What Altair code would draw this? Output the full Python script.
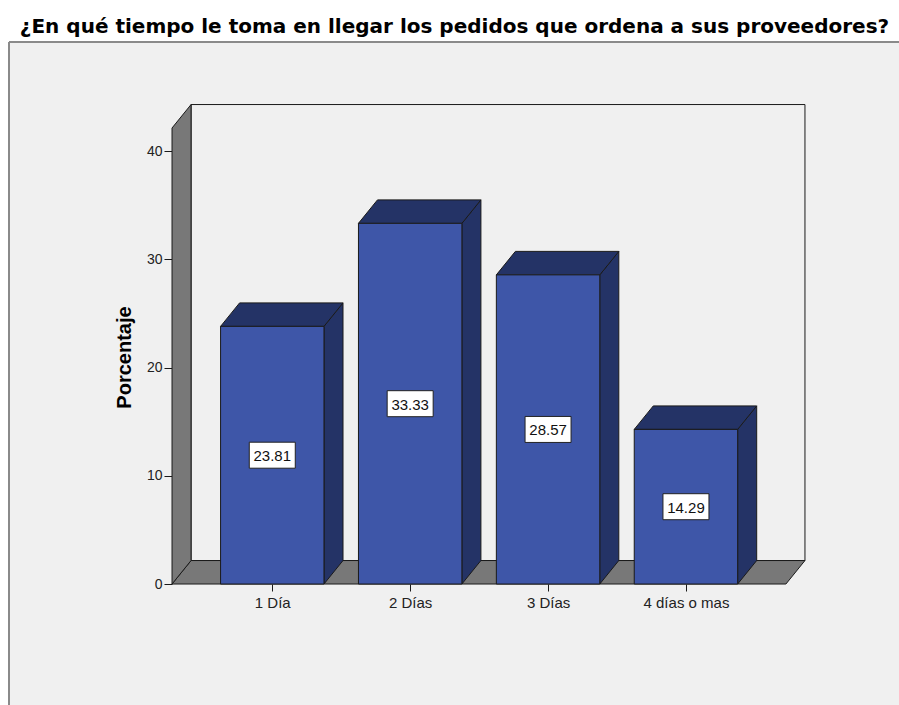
import json
import altair as alt
import pandas as pd

# Response categories and their percentages
categories = ["1 Día", "2 Días", "3 Días", "4 días o mas"]
percentages = [23.81, 33.33, 28.57, 14.29]
y_ticks = [0, 10, 20, 30, 40]

title_text = "¿En qué tiempo le toma en llegar los pedidos que ordena a sus proveedores?"
y_title = "Porcentaje"

# Geometry of the pseudo-3D frame, in data units
X_DOMAIN = [-1.902, 4.545]
Y_DOMAIN = [-11.18, 50.09]
HALF_BAR = 0.375          # half of a bar's front width (category step = 1)
DEPTH_X = 0.138           # horizontal depth of the extrusion
DEPTH_Y = 2.17            # vertical depth of the extrusion
FLOOR_X = [-0.727, 3.725] # front edge of the floor
WALL_TOP = 42.14          # top of the side wall

FRONT = "#3e56a8"
DARK = "#243366"
WALL = "#787878"
EDGE = "#1a1a1a"
PANEL = "#f0f0f0"
FONT = "Liberation Sans"
TITLE_FONT = "DejaVu Sans"

idx = list(range(len(categories)))

bars = pd.DataFrame({
    "cat": categories,
    "i": idx,
    "v": percentages,
})
bars["x0"] = bars["i"] - HALF_BAR
bars["x1"] = bars["i"] + HALF_BAR
bars["mid"] = bars["v"] / 2

side_rows, top_rows = [], []
for c, i, v in zip(categories, idx, percentages):
    side_rows.append({"cat": c, "px": i + HALF_BAR, "lo": 0.0, "hi": v})
    side_rows.append({"cat": c, "px": i + HALF_BAR + DEPTH_X, "lo": DEPTH_Y, "hi": v + DEPTH_Y})
    top_rows.append({"cat": c, "py": v, "l": i - HALF_BAR, "r": i + HALF_BAR})
    top_rows.append({"cat": c, "py": v + DEPTH_Y, "l": i - HALF_BAR + DEPTH_X, "r": i + HALF_BAR + DEPTH_X})
sides = pd.DataFrame(side_rows)
tops = pd.DataFrame(top_rows)

wall = pd.DataFrame([
    {"px": FLOOR_X[0], "lo": 0.0, "hi": WALL_TOP},
    {"px": FLOOR_X[0] + DEPTH_X, "lo": DEPTH_Y, "hi": WALL_TOP + DEPTH_Y},
])
floor = pd.DataFrame([
    {"py": 0.0, "l": FLOOR_X[0], "r": FLOOR_X[1]},
    {"py": DEPTH_Y, "l": FLOOR_X[0] + DEPTH_X, "r": FLOOR_X[1] + DEPTH_X},
])
back = pd.DataFrame([{
    "l": FLOOR_X[0] + DEPTH_X, "r": FLOOR_X[1] + DEPTH_X,
    "b": DEPTH_Y, "t": WALL_TOP + DEPTH_Y,
}])

xs = alt.Scale(domain=X_DOMAIN, nice=False, zero=False)
ys = alt.Scale(domain=Y_DOMAIN, nice=False, zero=False)

x_axis = alt.Axis(
    values=idx, labelExpr=f"{json.dumps(categories)}[datum.value]",
    orient="bottom", offset=-121, title=None, domain=False, grid=False,
    tickSize=7, tickColor=EDGE, labelFontSize=15, labelColor="#222",
    labelFont=FONT, labelPadding=4,
)
y_axis = alt.Axis(
    values=y_ticks, orient="left", offset=-162, title=y_title,
    domain=False, grid=False, tickSize=8, tickColor=EDGE,
    labelFontSize=14, labelColor="#222", labelFont=FONT, labelPadding=2,
    titleFont=FONT, titleFontSize=20, titleFontWeight="bold",
    titleColor="#000", titlePadding=12, titleY=315,
)


def X(f):
    return alt.X(f, type="quantitative", scale=xs, axis=x_axis)


def Y(f):
    return alt.Y(f, type="quantitative", scale=ys, axis=y_axis)


back_layer = alt.Chart(back).mark_rect(fill=PANEL, stroke=EDGE, strokeWidth=1).encode(
    x=X("l"), x2="r", y=Y("b"), y2="t")

floor_layer = alt.Chart(floor).mark_area(
    orient="horizontal", fill=WALL, stroke=EDGE, strokeWidth=1, opacity=1
).encode(y=Y("py"), x=X("l"), x2="r")

wall_layer = alt.Chart(wall).mark_area(
    orient="vertical", fill=WALL, stroke=EDGE, strokeWidth=1, opacity=1
).encode(x=X("px"), y=Y("lo"), y2="hi")

side_layer = alt.Chart(sides).mark_area(
    orient="vertical", fill=DARK, stroke=EDGE, strokeWidth=1, opacity=1
).encode(x=X("px"), y=Y("lo"), y2="hi", detail="cat:N")

top_layer = alt.Chart(tops).mark_area(
    orient="horizontal", fill=DARK, stroke=EDGE, strokeWidth=1, opacity=1
).encode(y=Y("py"), x=X("l"), x2="r", detail="cat:N")

front_layer = alt.Chart(bars).mark_rect(fill=FRONT, stroke=EDGE, strokeWidth=1).encode(
    x=X("x0"), x2="x1", y=Y("v"), y2=alt.Y2(datum=0))

box_layer = alt.Chart(bars).mark_rect(
    fill="white", stroke="#222", strokeWidth=1,
    xOffset=-23, x2Offset=23, yOffset=-13, y2Offset=13,
).encode(x=X("i"), x2="i", y=Y("mid"), y2="mid")

text_layer = alt.Chart(bars).mark_text(
    font=FONT, fontSize=15, color="#111", align="center", baseline="middle", dy=1
).encode(x=X("i"), y=Y("mid"), text=alt.Text("v:Q", format=".2f"))

border_top = alt.Chart(bars).mark_rule(color="#8a8a8a", strokeWidth=1.5).encode(
    x=alt.value(-1), x2=alt.value(889), y=alt.value(0))
border_left = alt.Chart(bars).mark_rule(color="#8a8a8a", strokeWidth=1.5).encode(
    x=alt.value(-1), y=alt.value(0), y2=alt.value(663))

chart = alt.layer(
    back_layer, floor_layer, wall_layer,
    side_layer, top_layer, front_layer,
    box_layer, text_layer, border_top, border_left,
).properties(
    width=889, height=663,
    title=alt.TitleParams(
        title_text, font=TITLE_FONT, fontSize=20, fontWeight="bold", color="#000",
        anchor="middle", baseline="alphabetic", offset=13, dy=25,
    ),
    background="white",
    padding={"left": 10, "top": 42, "right": 0, "bottom": 0},
    autosize=alt.AutoSizeParams(type="none"),
).configure_view(fill=PANEL, stroke=None)

chart.save("out.html", embed_options={"renderer": "svg", "actions": False})
